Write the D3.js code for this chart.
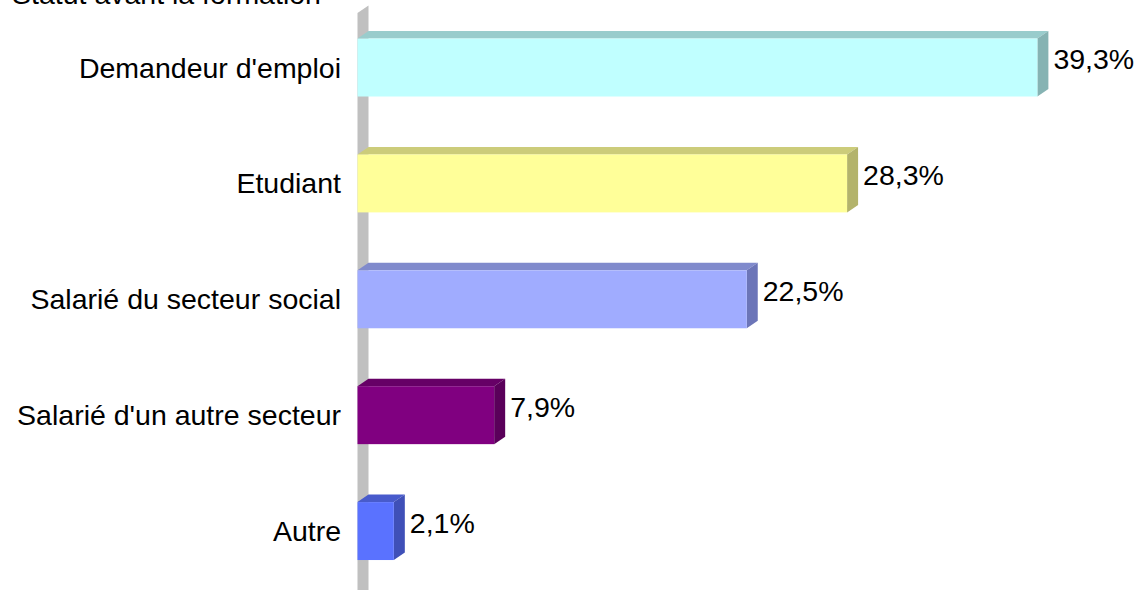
<!DOCTYPE html>
<html>
<head>
<meta charset="utf-8">
<script src="https://cdn.jsdelivr.net/npm/d3@7"></script>
<style>
  html, body { margin: 0; padding: 0; background: #fff; }
  svg { display: block; }
  text { font-family: "Liberation Sans", Arial, sans-serif; fill: #000; }
</style>
</head>
<body>
<svg id="chart" width="1139" height="590"></svg>
<script>
const title = "Statut avant la formation";
const categories = ["Demandeur d'emploi", "Etudiant", "Salarié du secteur social", "Salarié d'un autre secteur", "Autre"];
const values = [39.3, 28.3, 22.5, 7.9, 2.1];
const valueLabels = ["39,3%", "28,3%", "22,5%", "7,9%", "2,1%"];
const frontColors = ["#c0ffff", "#ffff99", "#a0acff", "#800080", "#5a72ff"];
const topColors = ["#99cccc", "#cccc7a", "#808acc", "#660066", "#485bcc"];
const sideColors = ["#86b3b3", "#b3b36b", "#6c75b8", "#5a005a", "#3f50b8"];

const svg = d3.select("#chart");
const W = 1139, H = 590;
const dx = 11, dy = -7.5;
const fontSize = 28.5;

const x = d3.scaleLinear().domain([0, 40]).range([357.5, 357.5 + 40 * 17.3]);
const y = d3.scaleBand().domain(categories).range([9.6, 589]).paddingInner(0.5).paddingOuter(0.25);

// wall (3D left floor)
const x0 = x(0);
svg.append("path")
  .attr("d", `M${x0},13 L${x0 + dx},${13 + dy} L${x0 + dx},${H} L${x0},${H} Z`)
  .attr("fill", "#c0c0c0");

// title (partly cut off at the top, as in the reference)
svg.append("text")
  .attr("x", 12).attr("y", 4)
  .attr("font-size", fontSize)
  .text(title);

const g = svg.append("g");
categories.forEach((c, i) => {
  const top = y(c), bot = y(c) + y.bandwidth();
  const x1 = x(values[i]);
  g.append("path")
    .attr("d", `M${x0},${top} L${x0 + dx},${top + dy} L${x1 + dx},${top + dy} L${x1},${top} Z`)
    .attr("fill", topColors[i]);
  g.append("path")
    .attr("d", `M${x1},${top} L${x1 + dx},${top + dy} L${x1 + dx},${bot + dy} L${x1},${bot} Z`)
    .attr("fill", sideColors[i]);
  g.append("rect")
    .attr("x", x0).attr("y", top)
    .attr("width", x1 - x0).attr("height", y.bandwidth())
    .attr("fill", frontColors[i]);
  g.append("text")
    .attr("x", x1 + dx + 5).attr("y", top + 30.5)
    .attr("font-size", fontSize)
    .text(valueLabels[i]);
  g.append("text")
    .attr("x", 341).attr("y", top + y.bandwidth() / 2 + 10)
    .attr("text-anchor", "end")
    .attr("font-size", fontSize)
    .text(c);
});
</script>
</body>
</html>
